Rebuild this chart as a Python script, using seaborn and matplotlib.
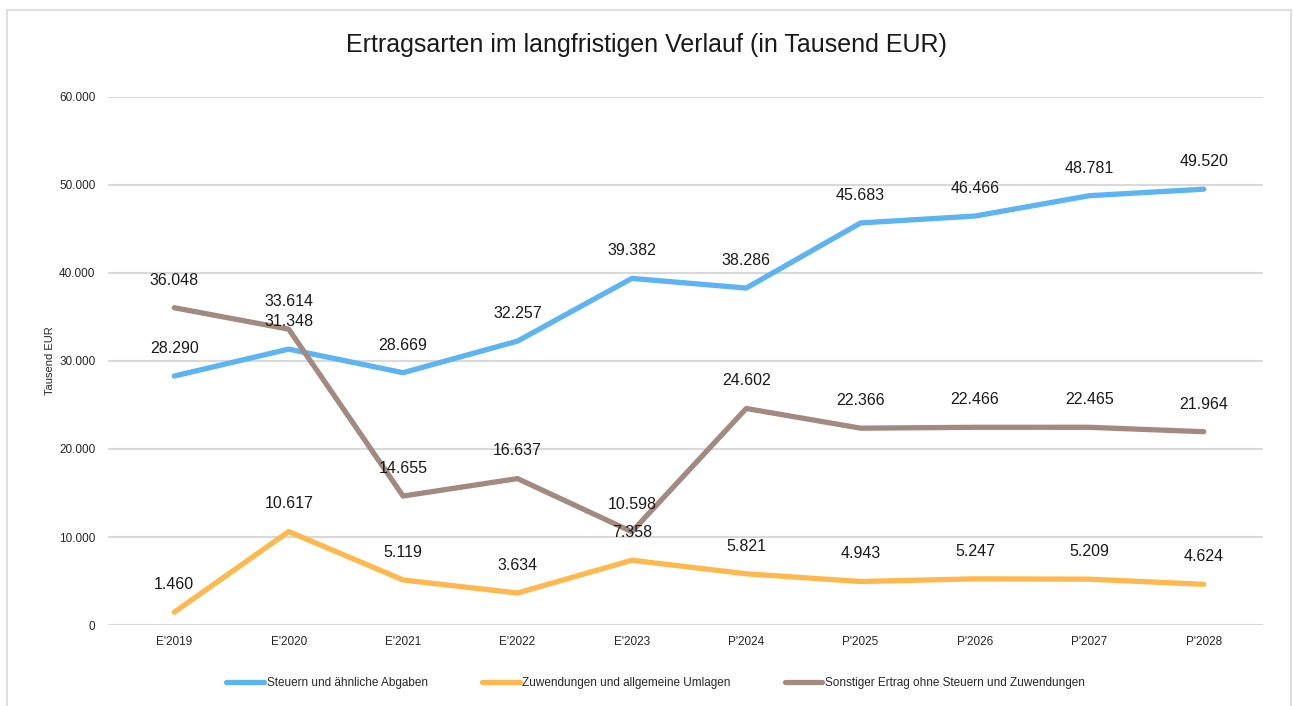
import numpy as np
import pandas as pd
import matplotlib
matplotlib.use("Agg")
import matplotlib.pyplot as plt
from matplotlib.patches import Rectangle
import seaborn as sns

# Daten
jahre = ["E'2019", "E'2020", "E'2021", "E'2022", "E'2023",
         "P'2024", "P'2025", "P'2026", "P'2027", "P'2028"]
steuern = [28290, 31348, 28669, 32257, 39382, 38286, 45683, 46466, 48781, 49520]
zuwendungen = [1460, 10617, 5119, 3634, 7358, 5821, 4943, 5247, 5209, 4624]
sonstiger = [36048, 33614, 14655, 16637, 10598, 24602, 22366, 22466, 22465, 21964]

serien = ["Steuern und ähnliche Abgaben",
          "Zuwendungen und allgemeine Umlagen",
          "Sonstiger Ertrag ohne Steuern und Zuwendungen"]
farben = ["#5DB4F2", "#FFB84D", "#A38A80"]


def fmt_de(v):
    return f"{v:,}".replace(",", ".")


df = pd.DataFrame({
    "Jahr": jahre * 3,
    "x": list(range(len(jahre))) * 3,
    "Wert": steuern + zuwendungen + sonstiger,
    "Serie": [serien[0]] * 10 + [serien[1]] * 10 + [serien[2]] * 10,
})

sns.set_style("white")
plt.rcParams["font.family"] = ["Liberation Sans", "DejaVu Sans"]

fig = plt.figure(figsize=(12.93, 7.06), dpi=100)
ax = fig.add_axes([0.0835, 0.1147, 0.8935, 0.748])

sns.lineplot(data=df, x="x", y="Wert", hue="Serie", hue_order=serien,
             palette=farben, linewidth=3.8, ax=ax, legend=True,
             solid_capstyle="round")

# Datenbeschriftungen
for _, row in df.iterrows():
    ax.annotate(fmt_de(row["Wert"]), (row["x"], row["Wert"]),
                textcoords="offset points", xytext=(0, 14.5),
                ha="center", va="bottom", fontsize=11.5, color="#1a1a1a")

ax.set_xlim(-0.58, 9.52)
ax.set_ylim(0, 60000)
ax.set_yticks(np.arange(0, 60001, 10000))
ax.set_yticklabels([fmt_de(v) for v in range(0, 60001, 10000)], fontsize=8.5)
ax.set_xticks(range(len(jahre)))
ax.set_xticklabels(jahre, fontsize=8.5)
ax.tick_params(axis="x", length=0, pad=8)
ax.tick_params(axis="y", length=0, pad=9)
ax.grid(axis="y", color="#d9d9d9", linewidth=1.5)
ax.grid(axis="x", visible=False)
for s in ax.spines.values():
    s.set_visible(False)
ax.set_xlabel("")
ax.set_ylabel("Tausend EUR", fontsize=8, labelpad=3)

fig.suptitle("Ertragsarten im langfristigen Verlauf (in Tausend EUR)",
             fontsize=18, y=0.953, color="#1a1a1a")

handles, labels = ax.get_legend_handles_labels()
ax.legend(handles, labels, loc="upper center", bbox_to_anchor=(0.474, -0.078),
          ncol=3, frameon=False, fontsize=8.5, handlelength=3.2,
          columnspacing=4.6, handletextpad=0.2)

fig.add_artist(Rectangle((0.0055, -0.01), 0.993, 0.996, transform=fig.transFigure,
                         fill=False, edgecolor="#d9d9d9", linewidth=1.2))

fig.savefig("out.png", dpi=100)
